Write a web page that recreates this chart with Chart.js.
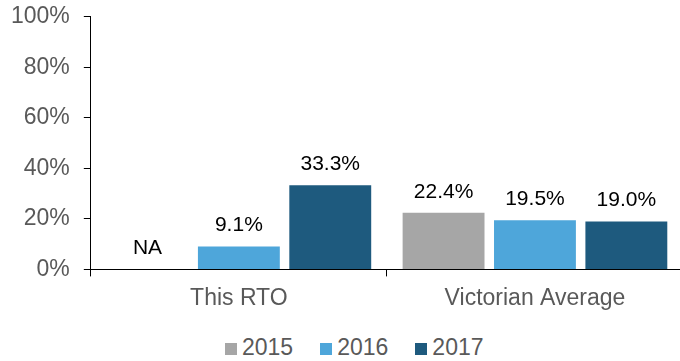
<!DOCTYPE html>
<html>
<head>
<meta charset="utf-8">
<script src="https://cdn.jsdelivr.net/npm/chart.js"></script>
<style>
  body { margin: 0; background: #fff; overflow: hidden; }
  #wrap { position: relative; width: 686px; height: 331px; margin: -11px 0 0 -3px; }
  #legend {
    position: absolute; top: 336px; left: 225px; display: flex;
    font-family: "Liberation Sans", Arial, sans-serif;
    font-size: 23px; line-height: 23px; color: #595959;
  }
  .item { margin-right: 27px; white-space: nowrap; }
  .box { display: inline-block; width: 12px; height: 12px; margin-right: 5px; }
</style>
</head>
<body>
<div id="wrap"><canvas id="myChart"></canvas></div>
<div id="legend"></div>
<script>
var categories = ["This RTO", "Victorian Average"];
var years = ["2015", "2016", "2017"];
var values2015 = [null, 22.4];
var values2016 = [9.1, 19.5];
var values2017 = [33.3, 19.0];
var yTicks = [0, 20, 40, 60, 80, 100];
var barColors = ["#A6A6A6", "#4EA6DA", "#1E5A7E"];

var FONT = "'Liberation Sans', Arial, sans-serif";

// writes the value (or NA) above each bar
var barLabels = {
  id: "barLabels",
  afterDatasetsDraw: function(chart) {
    var ctx = chart.ctx;
    var zero = chart.scales.y.getPixelForValue(0);
    ctx.save();
    ctx.font = "21px " + FONT;
    ctx.fillStyle = "#000";
    ctx.textAlign = "center";
    ctx.textBaseline = "alphabetic";
    chart.data.datasets.forEach(function(ds, i) {
      chart.getDatasetMeta(i).data.forEach(function(bar, j) {
        var v = ds.data[j];
        var text = v == null ? "NA" : v.toFixed(1) + "%";
        var y = v == null ? zero : bar.y;
        ctx.fillText(text, bar.x, y - 15);
      });
    });
    ctx.restore();
  }
};

function showChart() {
  var series = [values2015, values2016, values2017];
  var datasets = years.map(function(year, i) {
    return {
      label: year,
      data: series[i],
      backgroundColor: barColors[i],
      categoryPercentage: 0.926,
      barPercentage: 0.896
    };
  });

  new Chart("myChart", {
    type: "bar",
    data: { labels: categories, datasets: datasets },
    plugins: [barLabels],
    options: {
      responsive: true,
      maintainAspectRatio: false,
      animation: false,
      layout: { padding: { top: 5, left: 0, right: 0, bottom: 0 } },
      plugins: {
        legend: { display: false },
        tooltip: { enabled: false }
      },
      scales: {
        x: {
          grid: { offset: true, drawOnChartArea: false, tickLength: 7, color: "#000" },
          border: { color: "#000", width: 1 },
          ticks: { font: { family: FONT, size: 23 }, color: "#595959", padding: 8 }
        },
        y: {
          min: 0,
          max: 100,
          afterBuildTicks: function(axis) {
            axis.ticks = yTicks.map(function(v) { return { value: v }; });
          },
          grid: { drawOnChartArea: false, tickLength: 7, color: "#000" },
          border: { color: "#000", width: 1 },
          ticks: {
            font: { family: FONT, size: 23 },
            color: "#595959",
            padding: 14,
            callback: function(v) { return v + "%"; }
          }
        }
      }
    }
  });

  var legend = document.getElementById("legend");
  years.forEach(function(year, i) {
    var item = document.createElement("span");
    item.className = "item";
    var box = document.createElement("span");
    box.className = "box";
    box.style.background = barColors[i];
    item.appendChild(box);
    item.appendChild(document.createTextNode(year));
    legend.appendChild(item);
  });
}

window.addEventListener("load", showChart);
</script>
</body>
</html>
